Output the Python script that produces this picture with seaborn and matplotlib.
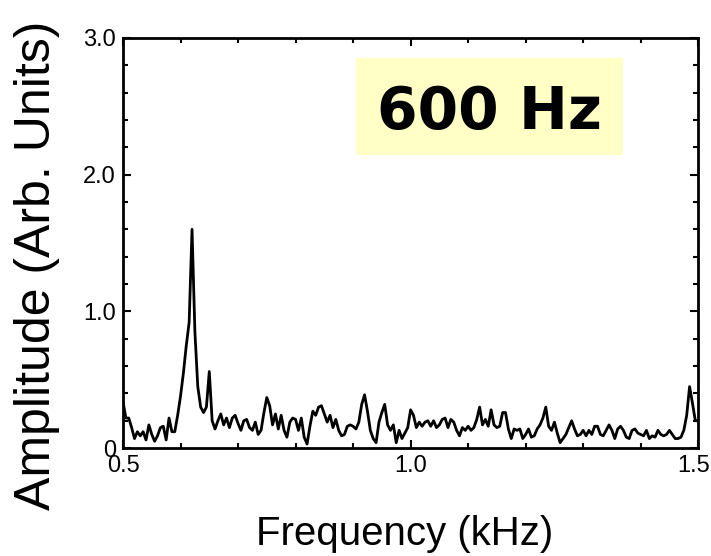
import numpy as np
import pandas as pd
import matplotlib
matplotlib.use("Agg")
import matplotlib.pyplot as plt
from matplotlib.patches import Rectangle
from matplotlib.transforms import ScaledTranslation
from matplotlib.ticker import MultipleLocator, FixedLocator, FixedFormatter
import seaborn as sns

# Spectrum amplitude (arb. units), sampled every 5 Hz from 0.5 to 1.5 kHz
amplitude = [
    0.34, 0.22, 0.22, 0.15, 0.07, 0.12, 0.09, 0.12, 0.06, 0.17,
    0.10, 0.05, 0.09, 0.15, 0.16, 0.06, 0.22, 0.12, 0.12, 0.24,
    0.38, 0.55, 0.75, 0.92, 1.60, 0.85, 0.45, 0.30, 0.26, 0.30,
    0.56, 0.20, 0.14, 0.20, 0.25, 0.17, 0.22, 0.15, 0.22, 0.24,
    0.18, 0.13, 0.20, 0.21, 0.15, 0.13, 0.19, 0.10, 0.13, 0.26,
    0.37, 0.31, 0.17, 0.25, 0.14, 0.24, 0.13, 0.08, 0.19, 0.22,
    0.21, 0.13, 0.22, 0.08, 0.03, 0.16, 0.27, 0.24, 0.30, 0.31,
    0.25, 0.19, 0.24, 0.15, 0.21, 0.13, 0.09, 0.10, 0.16, 0.17,
    0.16, 0.14, 0.19, 0.32, 0.39, 0.27, 0.13, 0.07, 0.04, 0.19,
    0.26, 0.32, 0.17, 0.13, 0.17, 0.04, 0.13, 0.07, 0.11, 0.15,
    0.28, 0.24, 0.15, 0.19, 0.16, 0.19, 0.20, 0.16, 0.20, 0.15,
    0.17, 0.21, 0.22, 0.15, 0.21, 0.19, 0.13, 0.09, 0.15, 0.13,
    0.16, 0.13, 0.15, 0.21, 0.30, 0.17, 0.21, 0.16, 0.28, 0.17,
    0.15, 0.16, 0.26, 0.26, 0.14, 0.07, 0.14, 0.13, 0.14, 0.07,
    0.10, 0.14, 0.08, 0.09, 0.14, 0.17, 0.22, 0.30, 0.16, 0.13,
    0.19, 0.11, 0.04, 0.07, 0.10, 0.15, 0.20, 0.14, 0.09, 0.10,
    0.13, 0.09, 0.13, 0.10, 0.16, 0.16, 0.10, 0.09, 0.13, 0.17,
    0.13, 0.07, 0.14, 0.16, 0.13, 0.08, 0.07, 0.13, 0.14, 0.11,
    0.10, 0.09, 0.13, 0.07, 0.09, 0.08, 0.13, 0.10, 0.09, 0.10,
    0.13, 0.10, 0.07, 0.07, 0.08, 0.13, 0.24, 0.45, 0.33, 0.20,
    0.20,
]
freq_khz = np.round(np.linspace(0.5, 1.5, len(amplitude)), 3)

x_ticks = [0.5, 1.0, 1.5]
x_tick_labels = ["0.5", "1.0", "1.5"]
y_ticks = [0.0, 1.0, 2.0, 3.0]
y_tick_labels = ["0", "1.0", "2.0", "3.0"]
annotation = "600 Hz"

df = pd.DataFrame({"Frequency (kHz)": freq_khz, "Amplitude": amplitude})

sns.set_theme(style="ticks")
plt.rcParams["font.family"] = ["Liberation Sans", "DejaVu Sans"]

fig = plt.figure(figsize=(7.11, 5.56), dpi=100)
ax = fig.add_axes([0.173, 0.194, 0.809, 0.738])

sns.lineplot(data=df, x="Frequency (kHz)", y="Amplitude", ax=ax,
             color="black", linewidth=2.0, estimator=None)

ax.set_xlim(0.5, 1.5)
ax.set_ylim(0.0, 3.0)
ax.xaxis.set_major_locator(FixedLocator(x_ticks))
ax.xaxis.set_major_formatter(FixedFormatter(x_tick_labels))
ax.yaxis.set_major_locator(FixedLocator(y_ticks))
ax.yaxis.set_major_formatter(FixedFormatter(y_tick_labels))
ax.xaxis.set_minor_locator(MultipleLocator(0.1))
ax.yaxis.set_minor_locator(MultipleLocator(0.2))

ax.tick_params(which="both", direction="in", top=True, right=True,
               color="black", width=1.5, labelcolor="black", labelsize=17)
ax.tick_params(which="major", length=6, pad=5)
ax.tick_params(which="minor", length=3.5)

# Pull the last frequency number slightly left so it stays on the canvas
last = ax.get_xticklabels()[-1]
last.set_transform(last.get_transform()
                   + ScaledTranslation(-5 / 100, 0, fig.dpi_scale_trans))

for side in ax.spines.values():
    side.set_visible(True)
    side.set_linewidth(2.0)
    side.set_color("black")

ax.set_xlabel("Frequency (kHz)", fontsize=29, color="black")
ax.xaxis.set_label_coords(0.489, -0.163)
ax.set_ylabel("Amplitude (Arb. Units)", fontsize=36, color="black")
ax.yaxis.set_label_coords(-0.11, 0.446)

# Highlighted frequency label
ax.add_patch(Rectangle((0.405, 0.715), 0.464, 0.237, transform=ax.transAxes,
                       facecolor="#ffffc6", edgecolor="none", zorder=3))
ax.text(0.637, 0.778, annotation, transform=ax.transAxes, ha="center",
        va="baseline", fontsize=42, fontweight="bold", color="black",
        family=["DejaVu Sans"], zorder=4)

fig.savefig("out.png", dpi=100, facecolor="white")
